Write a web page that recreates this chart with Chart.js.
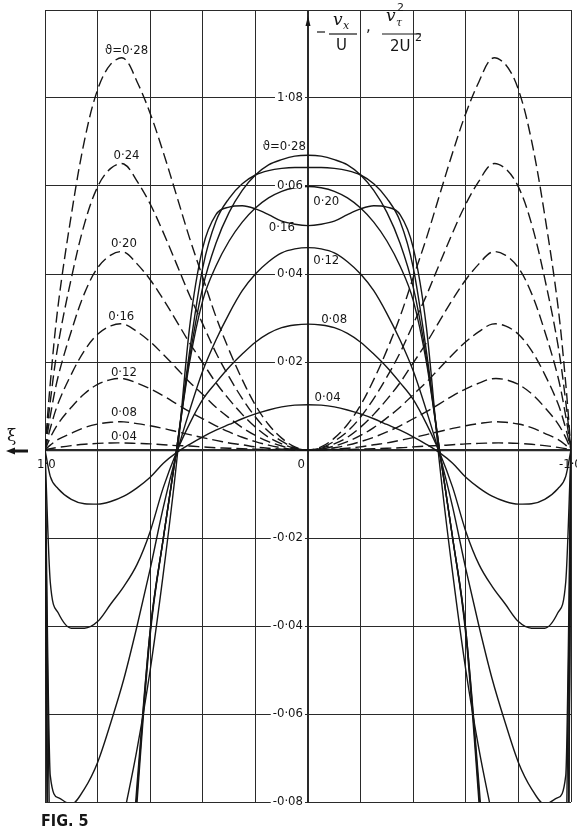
<!DOCTYPE html>
<html>
<head>
<meta charset="utf-8">
<script src="https://cdn.jsdelivr.net/npm/chart.js@4.4.1/dist/chart.umd.min.js"></script>
<style>
html,body{margin:0;padding:0;background:#fff;}
canvas{display:block;}
</style>
</head>
<body>
<canvas id="fig5" width="577" height="835"></canvas>
<script>
// xi runs from +1 (left) to -1 (right)
var xi = [1.0,0.98,0.95,0.9,0.85,0.8,0.75,0.7,0.65,0.6,0.55,0.5,0.45,0.4,0.35,0.3,0.25,0.2,0.15,0.1,0.05,0,
          -0.05,-0.1,-0.15,-0.2,-0.25,-0.3,-0.35,-0.4,-0.45,-0.5,-0.55,-0.6,-0.65,-0.7,-0.75,-0.8,-0.85,-0.9,-0.95,-0.98,-1.0];

// -vx/U (solid)
var vx04 = [0,-0.006,-0.0088,-0.0112,-0.0122,-0.0123,-0.0117,-0.0105,-0.0086,-0.0062,-0.003,-0.0006,0.0013,0.003,0.0045,0.0058,0.0071,0.0082,0.0091,0.0098,0.0102,0.0103,
            0.0102,0.0098,0.0091,0.0082,0.0071,0.0058,0.0045,0.003,0.0013,-0.0006,-0.003,-0.0062,-0.0086,-0.0105,-0.0117,-0.0123,-0.0122,-0.0112,-0.0088,-0.006,0];
var vx08 = [0,-0.030,-0.037,-0.0405,-0.0405,-0.039,-0.035,-0.031,-0.026,-0.0185,-0.0085,-0.0005,0.006,0.0115,0.0153,0.0188,0.0218,0.0245,0.0265,0.0278,0.0284,0.0286,
            0.0284,0.0278,0.0265,0.0245,0.0218,0.0188,0.0153,0.0115,0.006,-0.0005,-0.0085,-0.0185,-0.026,-0.031,-0.035,-0.039,-0.0405,-0.0405,-0.037,-0.030,0];
var vx12 = [0,-0.074,-0.079,-0.0805,-0.077,-0.071,-0.062,-0.052,-0.040,-0.027,-0.013,-0.001,0.009,0.018,0.025,0.031,0.0362,0.040,0.0428,0.0448,0.0457,0.046,
            0.0457,0.0448,0.0428,0.040,0.0362,0.031,0.025,0.018,0.009,-0.001,-0.013,-0.027,-0.040,-0.052,-0.062,-0.071,-0.077,-0.0805,-0.079,-0.074,0];
var vx16 = [0,-0.10,-0.125,-0.13,-0.124,-0.112,-0.098,-0.083,-0.068,-0.05,-0.028,-0.003,0.028,0.046,0.0535,0.0552,0.0555,0.0548,0.0535,0.052,0.0513,0.051,
            0.0513,0.052,0.0535,0.0548,0.0555,0.0552,0.0535,0.046,0.028,-0.003,-0.028,-0.05,-0.068,-0.083,-0.098,-0.112,-0.124,-0.13,-0.125,-0.10,0];
var vx20 = [0,-0.16,-0.2,-0.21,-0.2,-0.18,-0.15,-0.115,-0.076,-0.041,-0.02,0.0,0.02,0.034,0.0418,0.0475,0.0518,0.055,0.0573,0.0588,0.0596,0.0599,
            0.0596,0.0588,0.0573,0.055,0.0518,0.0475,0.0418,0.034,0.02,0.0,-0.02,-0.041,-0.076,-0.115,-0.15,-0.18,-0.2,-0.21,-0.2,-0.16,0];
var vx24 = [0,-0.17,-0.21,-0.22,-0.21,-0.19,-0.16,-0.12,-0.078,-0.041,-0.02,0.0,0.0225,0.0415,0.052,0.0572,0.0605,0.0625,0.0635,0.064,0.0642,0.0642,
            0.0642,0.064,0.0635,0.0625,0.0605,0.0572,0.052,0.0415,0.0225,0.0,-0.02,-0.041,-0.078,-0.12,-0.16,-0.19,-0.21,-0.22,-0.21,-0.17,0];
var vx28 = [0,-0.18,-0.22,-0.235,-0.225,-0.2,-0.165,-0.125,-0.08,-0.042,-0.02,0.0,0.021,0.037,0.047,0.054,0.059,0.0625,0.0648,0.066,0.0668,0.067,
            0.0668,0.066,0.0648,0.0625,0.059,0.054,0.047,0.037,0.021,0.0,-0.02,-0.042,-0.08,-0.125,-0.165,-0.2,-0.225,-0.235,-0.22,-0.18,0];

// vt^2/2U^2 (dashed)
var vt04 = [0,0.0003,0.0006,0.001,0.0013,0.0015,0.0016,0.0016,0.0015,0.0014,0.0012,0.001,0.0009,0.0007,0.0005,0.0004,0.0003,0.0002,0.0001,0.0001,0,0,
            0,0.0001,0.0001,0.0002,0.0003,0.0004,0.0005,0.0007,0.0009,0.001,0.0012,0.0014,0.0015,0.0016,0.0016,0.0015,0.0013,0.001,0.0006,0.0003,0];
var vt08 = [0,0.0011,0.0024,0.0038,0.0051,0.0059,0.0063,0.0064,0.006,0.0055,0.0049,0.0042,0.0035,0.0028,0.0022,0.0016,0.0012,0.0007,0.0004,0.0002,0.0001,0,
            0.0001,0.0002,0.0004,0.0007,0.0012,0.0016,0.0022,0.0028,0.0035,0.0042,0.0049,0.0055,0.006,0.0064,0.0063,0.0059,0.0051,0.0038,0.0024,0.0011,0];
var vt12 = [0,0.0028,0.006,0.0097,0.0128,0.0149,0.016,0.0162,0.0152,0.0139,0.0123,0.0105,0.0087,0.0071,0.0055,0.0041,0.0029,0.0019,0.0011,0.0005,0.0001,0,
            0.0001,0.0005,0.0011,0.0019,0.0029,0.0041,0.0055,0.0071,0.0087,0.0105,0.0123,0.0139,0.0152,0.0162,0.016,0.0149,0.0128,0.0097,0.006,0.0028,0];
var vt16 = [0,0.0049,0.0106,0.0172,0.0226,0.0263,0.0282,0.0286,0.0269,0.0246,0.0217,0.0186,0.0154,0.0126,0.0097,0.0073,0.0051,0.0033,0.0019,0.0009,0.0002,0,
            0.0002,0.0009,0.0019,0.0033,0.0051,0.0073,0.0097,0.0126,0.0154,0.0186,0.0217,0.0246,0.0269,0.0286,0.0282,0.0263,0.0226,0.0172,0.0106,0.0049,0];
var vt20 = [0,0.0077,0.0167,0.027,0.0356,0.0414,0.0443,0.045,0.0423,0.0387,0.0342,0.0293,0.0243,0.0198,0.0153,0.0115,0.0081,0.0052,0.0029,0.0014,0.0004,0,
            0.0004,0.0014,0.0029,0.0052,0.0081,0.0115,0.0153,0.0198,0.0243,0.0293,0.0342,0.0387,0.0423,0.045,0.0443,0.0414,0.0356,0.027,0.0167,0.0077,0];
var vt24 = [0,0.011,0.024,0.039,0.0514,0.0598,0.064,0.065,0.0611,0.0559,0.0494,0.0423,0.0351,0.0286,0.0221,0.0166,0.0117,0.0075,0.0042,0.002,0.0005,0,
            0.0005,0.002,0.0042,0.0075,0.0117,0.0166,0.0221,0.0286,0.0351,0.0423,0.0494,0.0559,0.0611,0.065,0.064,0.0598,0.0514,0.039,0.024,0.011,0];
var vt28 = [0,0.0151,0.0329,0.0534,0.0703,0.0819,0.0877,0.089,0.0837,0.0765,0.0676,0.0579,0.0481,0.0392,0.0303,0.0227,0.016,0.0102,0.0058,0.0027,0.0007,0,
            0.0007,0.0027,0.0058,0.0102,0.016,0.0227,0.0303,0.0392,0.0481,0.0579,0.0676,0.0765,0.0837,0.089,0.0877,0.0819,0.0703,0.0534,0.0329,0.0151,0];

var xTicks = [1.0,0.8,0.6,0.4,0.2,0,-0.2,-0.4,-0.6,-0.8,-1.0];
var xTickText = ['1·0','0','-1·0'];
var xTickAt = [1.0,0,-1.0];
var yTicks = [-0.08,-0.06,-0.04,-0.02,0,0.02,0.04,0.06,0.08,0.10];
var yTickText = ['-0·08','-0·06','-0·04','-0·02','','0·02','0·04','0·06','1·08',''];

var dashedNames = ['ϑ=0·28','0·24','0·20','0·16','0·12','0·08','0·04'];
var solidNames = ['ϑ=0·28','0·20','0·16','0·12','0·08','0·04'];

// label anchors (in data units) - layout only
var dashedLabelPos = [[0.69,0.0907],[0.69,0.067],[0.70,0.0469],[0.71,0.0302],[0.70,0.0176],[0.70,0.0085],[0.70,0.003]];
var solidLabelPos = [[0.008,0.069,'right'],[-0.02,0.0565,'left'],[0.05,0.0505,'right'],[-0.02,0.043,'left'],[-0.05,0.0297,'left'],[-0.025,0.0119,'left']];

var INK = '#161616';

function series(vals, dashed){
  return {
    data: xi.map(function(x,i){ return {x:x, y:vals[i]}; }),
    borderColor: INK,
    borderWidth: 1.4,
    borderDash: dashed ? [11,5] : [],
    pointRadius: 0,
    fill: false,
    cubicInterpolationMode: dashed ? 'default' : 'monotone',
    tension: 0.35
  };
}

var textPlugin = {
  id: 'figText',
  afterDatasetsDraw: function(chart){
    var c = chart.ctx, xs = chart.scales.x, ys = chart.scales.y;
    var cx = xs.getPixelForValue(0), y0 = ys.getPixelForValue(0);
    c.save();
    c.fillStyle = INK;
    c.font = "13px 'DejaVu Sans Condensed','DejaVu Sans',sans-serif";

    // y tick labels on the central axis
    c.textAlign = 'right'; c.textBaseline = 'middle';
    yTicks.forEach(function(v,i){
      var t = yTickText[i]; if(!t) return;
      var y = ys.getPixelForValue(v);
      var w = c.measureText(t).width;
      c.fillStyle = '#fff'; c.fillRect(cx-5-w-2, y-2, w+4, 4);
      c.fillStyle = INK; c.fillText(t, cx-5, y);
    });

    // x tick labels below axis
    c.textBaseline = 'top';
    xTickAt.forEach(function(v,i){
      var x = xs.getPixelForValue(v);
      c.textAlign = v === 0 ? 'right' : 'left';
      var dx = v > 0 ? -8 : (v < 0 ? -12 : -3);
      c.fillText(xTickText[i], x+dx, y0+8);
    });

    // dashed curve labels
    c.textAlign = 'center'; c.textBaseline = 'middle';
    dashedNames.forEach(function(t,i){
      c.fillText(t, xs.getPixelForValue(dashedLabelPos[i][0]), ys.getPixelForValue(dashedLabelPos[i][1]));
    });
    // solid curve labels
    solidNames.forEach(function(t,i){
      c.textAlign = solidLabelPos[i][2];
      c.fillText(t, xs.getPixelForValue(solidLabelPos[i][0]), ys.getPixelForValue(solidLabelPos[i][1]));
    });

    // xi label with arrow
    c.textAlign = 'left'; c.textBaseline = 'middle';
    c.font = "17px 'DejaVu Serif',serif";
    c.fillText('ξ', 7, y0-13);
    c.strokeStyle = INK; c.lineWidth = 3;
    c.beginPath(); c.moveTo(12, y0+1); c.lineTo(28, y0+1); c.stroke();
    c.beginPath(); c.moveTo(6, y0+1); c.lineTo(15, y0-2.5); c.lineTo(15, y0+4.5); c.closePath(); c.fill();

    // ordinate title
    c.lineWidth = 1.2;
    c.font = "italic 17px 'DejaVu Serif',serif";
    c.textAlign = 'left'; c.textBaseline = 'alphabetic';
    c.fillText('v', 333, 25);
    c.fillText('v', 386, 21);
    c.font = "italic 11px 'DejaVu Serif',serif";
    c.fillText('x', 343, 29);
    c.fillText('τ', 396, 26);
    c.font = "11px 'DejaVu Sans',sans-serif";
    c.fillText('2', 397, 11);
    c.fillText('2', 415, 41);
    c.font = "15px 'DejaVu Sans',sans-serif";
    c.fillText('U', 336, 50);
    c.fillText('2U', 390, 51);
    c.fillText(',', 366, 31);
    c.beginPath(); c.moveTo(317, 32); c.lineTo(325, 32); c.stroke();
    c.beginPath(); c.moveTo(329, 34); c.lineTo(357, 34); c.stroke();
    c.beginPath(); c.moveTo(382, 34); c.lineTo(421, 34); c.stroke();
    // arrow head on the ordinate
    c.beginPath(); c.moveTo(cx, 16); c.lineTo(cx-2.5, 26); c.lineTo(cx+2.5, 26); c.closePath(); c.fill();

    // figure caption
    c.font = "bold 16px 'DejaVu Sans Condensed','DejaVu Sans',sans-serif";
    c.textBaseline = 'middle';
    c.fillText('FIG. 5', 41, 822);
    c.restore();
  }
};

var datasets = [vx04,vx08,vx12,vx16,vx20,vx24,vx28].map(function(v){ return series(v,false); })
  .concat([vt04,vt08,vt12,vt16,vt20,vt24,vt28].map(function(v){ return series(v,true); }));

var fig = new Chart(document.getElementById('fig5').getContext('2d'), {
  type: 'line',
  data: { datasets: datasets },
  options: {
    responsive: false,
    animation: false,
    devicePixelRatio: 1,
    layout: { padding: { left: 45, right: 6, top: 10, bottom: 33 } },
    plugins: { legend: { display: false }, tooltip: { enabled: false } },
    scales: {
      x: {
        type: 'linear', reverse: true, min: -1, max: 1,
        afterBuildTicks: function(s){ s.ticks = xTicks.map(function(v){ return {value:v}; }); },
        ticks: { display: false },
        grid: { color: '#2a2a2a', drawTicks: false,
                lineWidth: function(ctx){ return ctx.tick && ctx.tick.value === 0 ? 2 : 1; } },
        border: { display: false }
      },
      y: {
        type: 'linear', min: -0.08, max: 0.10,
        afterBuildTicks: function(s){ s.ticks = yTicks.map(function(v){ return {value:v}; }); },
        ticks: { display: false },
        grid: { color: '#2a2a2a', drawTicks: false,
                lineWidth: function(ctx){ return ctx.tick && Math.abs(ctx.tick.value) < 1e-9 ? 2.2 : 1; } },
        border: { display: false }
      }
    }
  },
  plugins: [textPlugin]
});
</script>
</body>
</html>
